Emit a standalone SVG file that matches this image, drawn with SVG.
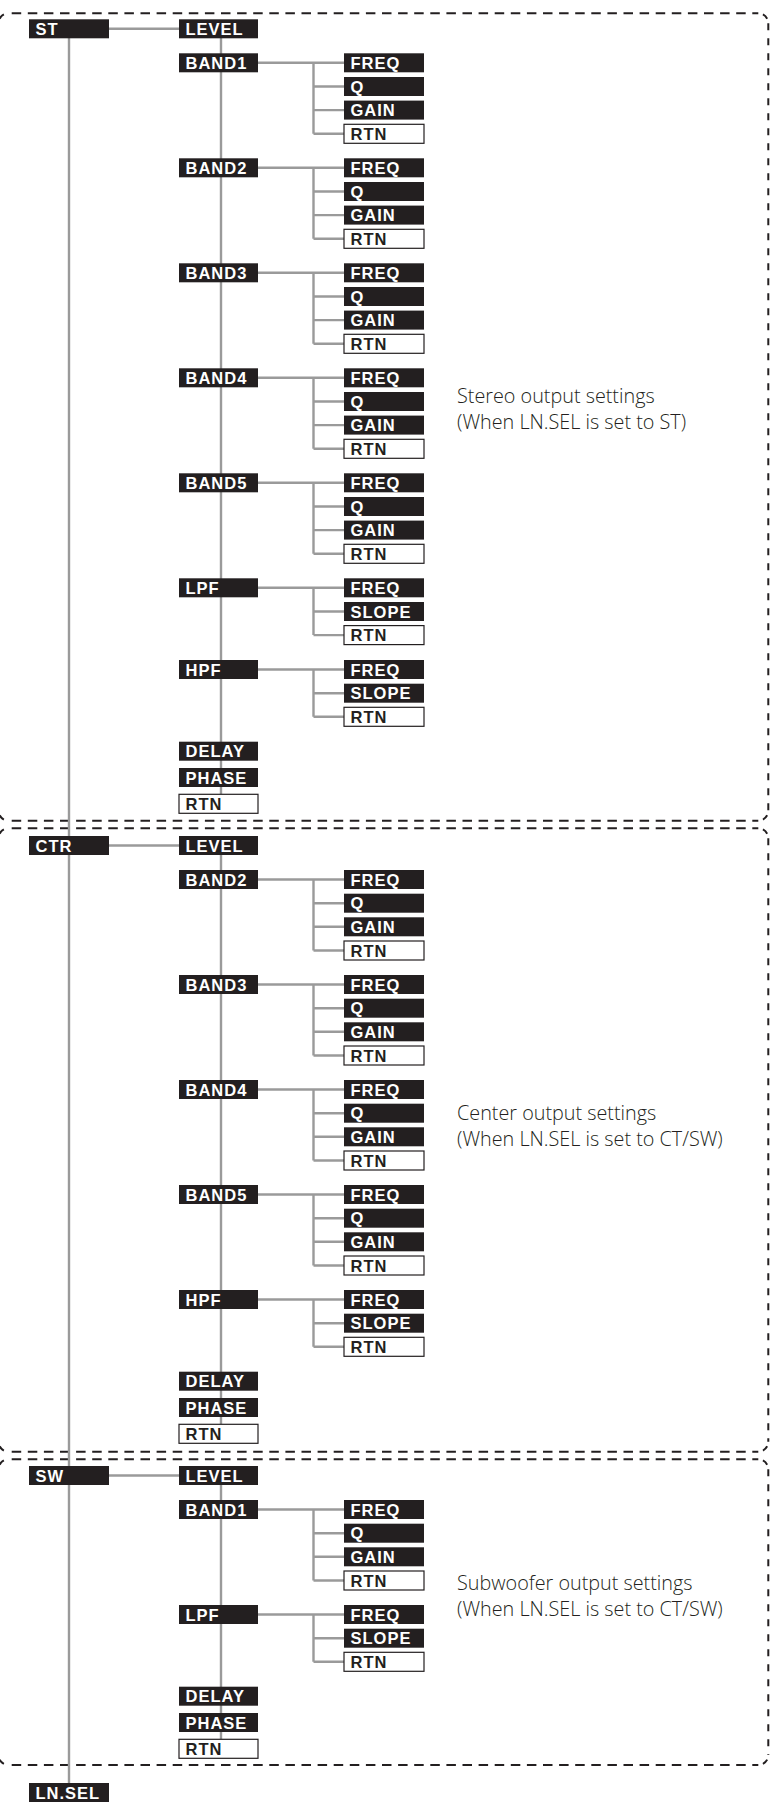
<svg xmlns="http://www.w3.org/2000/svg" width="770" height="1810" viewBox="0 0 770 1810">
<style>
.ln{stroke:#9a9a9a;stroke-width:2.4;fill:none}
.b rect{fill:#231f20}
.b text{fill:#fff}
.r rect{fill:#fff;stroke:#231f20;stroke-width:1.2}
.r text{fill:#231f20}
text{font-family:"Liberation Sans",Arial,sans-serif;font-weight:bold;font-size:16.5px;letter-spacing:1px}
.dh{stroke:#231f20;stroke-width:2;fill:none;stroke-dasharray:9.5 6.6}
.dv{stroke:#231f20;stroke-width:2;fill:none;stroke-dasharray:7 8}
.dc{stroke:#231f20;stroke-width:2;fill:none;stroke-dasharray:0 4.8 6 20}
text.note{font-family:"Open Sans","Liberation Sans",sans-serif;font-weight:300;font-size:19.8px;letter-spacing:0;fill:#231f20}
</style>
<g id="frames">
<path class="dh" d="M11.7 13.3H758.3M11.7 820.7H758.3"/>
<path class="dv" d="M768.3 23.3V810.7"/>
<path class="dc" d="M758.3 13.3A10 10 0 0 1 768.3 23.3M768.3 810.7A10 10 0 0 1 758.3 820.7M8.5 820.7A10 10 0 0 1 -1.5 810.7M-1.5 23.3A10 10 0 0 1 8.5 13.3"/>
<path class="dh" d="M11.7 828.3H758.3M11.7 1451.7H758.3"/>
<path class="dv" d="M768.3 838.3V1441.7"/>
<path class="dc" d="M758.3 828.3A10 10 0 0 1 768.3 838.3M768.3 1441.7A10 10 0 0 1 758.3 1451.7M8.5 1451.7A10 10 0 0 1 -1.5 1441.7M-1.5 838.3A10 10 0 0 1 8.5 828.3"/>
<path class="dh" d="M11.7 1459.3H758.3M11.7 1765H758.3"/>
<path class="dv" d="M768.3 1469.3V1755"/>
<path class="dc" d="M758.3 1459.3A10 10 0 0 1 768.3 1469.3M768.3 1755A10 10 0 0 1 758.3 1765M8.5 1765A10 10 0 0 1 -1.5 1755M-1.5 1469.3A10 10 0 0 1 8.5 1459.3"/>
</g>
<g id="connectors" class="ln">
<path d="M69 29V1790"/>
<path d="M109 28.8H179M221 38V794M109 845.5H179M221 855V1424M109 1475.5H179M221 1485V1739"/>
<path d="M258 62.8H344M313.5 62.8V133.8M313.5 86.5H344M313.5 110.1H344M313.5 133.8H344"/>
<path d="M258 167.8H344M313.5 167.8V238.8M313.5 191.5H344M313.5 215.1H344M313.5 238.8H344"/>
<path d="M258 272.8H344M313.5 272.8V343.8M313.5 296.5H344M313.5 320.1H344M313.5 343.8H344"/>
<path d="M258 377.8H344M313.5 377.8V448.8M313.5 401.5H344M313.5 425.1H344M313.5 448.8H344"/>
<path d="M258 482.8H344M313.5 482.8V553.8M313.5 506.5H344M313.5 530.1H344M313.5 553.8H344"/>
<path d="M258 587.8H344M313.5 587.8V635.1M313.5 611.5H344M313.5 635.1H344"/>
<path d="M258 669.5H344M313.5 669.5V716.8M313.5 693.2H344M313.5 716.8H344"/>
<path d="M258 879.5H344M313.5 879.5V950.5M313.5 903.2H344M313.5 926.8H344M313.5 950.5H344"/>
<path d="M258 984.5H344M313.5 984.5V1055.5M313.5 1008.2H344M313.5 1031.8H344M313.5 1055.5H344"/>
<path d="M258 1089.5H344M313.5 1089.5V1160.5M313.5 1113.2H344M313.5 1136.8H344M313.5 1160.5H344"/>
<path d="M258 1194.5H344M313.5 1194.5V1265.5M313.5 1218.2H344M313.5 1241.8H344M313.5 1265.5H344"/>
<path d="M258 1299.5H344M313.5 1299.5V1346.8M313.5 1323.2H344M313.5 1346.8H344"/>
<path d="M258 1509.5H344M313.5 1509.5V1580.5M313.5 1533.2H344M313.5 1556.8H344M313.5 1580.5H344"/>
<path d="M258 1614.5H344M313.5 1614.5V1661.8M313.5 1638.2H344M313.5 1661.8H344"/>
</g>

<!-- ST section -->
<g id="st" class="b"><rect x="29" y="19.3" width="80" height="19"/><text x="35.5" y="35">ST</text></g>
<g id="st-level" class="b"><rect x="179" y="19.3" width="79" height="19"/><text x="185.5" y="35">LEVEL</text></g>
<g id="st-band1" class="b"><rect x="179" y="53.3" width="79" height="19"/><text x="185.5" y="69">BAND1</text></g>
<g id="st-band1-freq" class="b"><rect x="344" y="53.3" width="80" height="19"/><text x="350.5" y="69">FREQ</text></g>
<g id="st-band1-q" class="b"><rect x="344" y="77" width="80" height="19"/><text x="350.5" y="92.7">Q</text></g>
<g id="st-band1-gain" class="b"><rect x="344" y="100.6" width="80" height="19"/><text x="350.5" y="116.3">GAIN</text></g>
<g id="st-band1-rtn" class="r"><rect x="344" y="124.3" width="80" height="19"/><text x="350.5" y="140">RTN</text></g>
<g id="st-band2" class="b"><rect x="179" y="158.3" width="79" height="19"/><text x="185.5" y="174">BAND2</text></g>
<g id="st-band2-freq" class="b"><rect x="344" y="158.3" width="80" height="19"/><text x="350.5" y="174">FREQ</text></g>
<g id="st-band2-q" class="b"><rect x="344" y="182" width="80" height="19"/><text x="350.5" y="197.7">Q</text></g>
<g id="st-band2-gain" class="b"><rect x="344" y="205.6" width="80" height="19"/><text x="350.5" y="221.3">GAIN</text></g>
<g id="st-band2-rtn" class="r"><rect x="344" y="229.3" width="80" height="19"/><text x="350.5" y="245">RTN</text></g>
<g id="st-band3" class="b"><rect x="179" y="263.3" width="79" height="19"/><text x="185.5" y="279">BAND3</text></g>
<g id="st-band3-freq" class="b"><rect x="344" y="263.3" width="80" height="19"/><text x="350.5" y="279">FREQ</text></g>
<g id="st-band3-q" class="b"><rect x="344" y="287" width="80" height="19"/><text x="350.5" y="302.7">Q</text></g>
<g id="st-band3-gain" class="b"><rect x="344" y="310.6" width="80" height="19"/><text x="350.5" y="326.3">GAIN</text></g>
<g id="st-band3-rtn" class="r"><rect x="344" y="334.3" width="80" height="19"/><text x="350.5" y="350">RTN</text></g>
<g id="st-band4" class="b"><rect x="179" y="368.3" width="79" height="19"/><text x="185.5" y="384">BAND4</text></g>
<g id="st-band4-freq" class="b"><rect x="344" y="368.3" width="80" height="19"/><text x="350.5" y="384">FREQ</text></g>
<g id="st-band4-q" class="b"><rect x="344" y="392" width="80" height="19"/><text x="350.5" y="407.7">Q</text></g>
<g id="st-band4-gain" class="b"><rect x="344" y="415.6" width="80" height="19"/><text x="350.5" y="431.3">GAIN</text></g>
<g id="st-band4-rtn" class="r"><rect x="344" y="439.3" width="80" height="19"/><text x="350.5" y="455">RTN</text></g>
<g id="st-band5" class="b"><rect x="179" y="473.3" width="79" height="19"/><text x="185.5" y="489">BAND5</text></g>
<g id="st-band5-freq" class="b"><rect x="344" y="473.3" width="80" height="19"/><text x="350.5" y="489">FREQ</text></g>
<g id="st-band5-q" class="b"><rect x="344" y="497" width="80" height="19"/><text x="350.5" y="512.7">Q</text></g>
<g id="st-band5-gain" class="b"><rect x="344" y="520.6" width="80" height="19"/><text x="350.5" y="536.3">GAIN</text></g>
<g id="st-band5-rtn" class="r"><rect x="344" y="544.3" width="80" height="19"/><text x="350.5" y="560">RTN</text></g>
<g id="st-lpf" class="b"><rect x="179" y="578.3" width="79" height="19"/><text x="185.5" y="594">LPF</text></g>
<g id="st-lpf-freq" class="b"><rect x="344" y="578.3" width="80" height="19"/><text x="350.5" y="594">FREQ</text></g>
<g id="st-lpf-slope" class="b"><rect x="344" y="602" width="80" height="19"/><text x="350.5" y="617.7">SLOPE</text></g>
<g id="st-lpf-rtn" class="r"><rect x="344" y="625.6" width="80" height="19"/><text x="350.5" y="641.3">RTN</text></g>
<g id="st-hpf" class="b"><rect x="179" y="660" width="79" height="19"/><text x="185.5" y="675.7">HPF</text></g>
<g id="st-hpf-freq" class="b"><rect x="344" y="660" width="80" height="19"/><text x="350.5" y="675.7">FREQ</text></g>
<g id="st-hpf-slope" class="b"><rect x="344" y="683.7" width="80" height="19"/><text x="350.5" y="699.4">SLOPE</text></g>
<g id="st-hpf-rtn" class="r"><rect x="344" y="707.3" width="80" height="19"/><text x="350.5" y="723">RTN</text></g>
<g id="st-delay" class="b"><rect x="179" y="741.7" width="79" height="19"/><text x="185.5" y="757.4">DELAY</text></g>
<g id="st-phase" class="b"><rect x="179" y="768" width="79" height="19"/><text x="185.5" y="783.7">PHASE</text></g>
<g id="st-rtn" class="r"><rect x="179" y="794.3" width="79" height="19"/><text x="185.5" y="810">RTN</text></g>
<g id="st-note"><text class="note" x="457" y="403">Stereo output settings</text><text class="note" x="457" y="429">(When LN.SEL is set to ST)</text></g>

<!-- CTR section -->
<g id="ctr" class="b"><rect x="29" y="836" width="80" height="19"/><text x="35.5" y="851.7">CTR</text></g>
<g id="ctr-level" class="b"><rect x="179" y="836" width="79" height="19"/><text x="185.5" y="851.7">LEVEL</text></g>
<g id="ctr-band2" class="b"><rect x="179" y="870" width="79" height="19"/><text x="185.5" y="885.7">BAND2</text></g>
<g id="ctr-band2-freq" class="b"><rect x="344" y="870" width="80" height="19"/><text x="350.5" y="885.7">FREQ</text></g>
<g id="ctr-band2-q" class="b"><rect x="344" y="893.7" width="80" height="19"/><text x="350.5" y="909.4">Q</text></g>
<g id="ctr-band2-gain" class="b"><rect x="344" y="917.3" width="80" height="19"/><text x="350.5" y="933">GAIN</text></g>
<g id="ctr-band2-rtn" class="r"><rect x="344" y="941" width="80" height="19"/><text x="350.5" y="956.7">RTN</text></g>
<g id="ctr-band3" class="b"><rect x="179" y="975" width="79" height="19"/><text x="185.5" y="990.7">BAND3</text></g>
<g id="ctr-band3-freq" class="b"><rect x="344" y="975" width="80" height="19"/><text x="350.5" y="990.7">FREQ</text></g>
<g id="ctr-band3-q" class="b"><rect x="344" y="998.7" width="80" height="19"/><text x="350.5" y="1014.4">Q</text></g>
<g id="ctr-band3-gain" class="b"><rect x="344" y="1022.3" width="80" height="19"/><text x="350.5" y="1038">GAIN</text></g>
<g id="ctr-band3-rtn" class="r"><rect x="344" y="1046" width="80" height="19"/><text x="350.5" y="1061.7">RTN</text></g>
<g id="ctr-band4" class="b"><rect x="179" y="1080" width="79" height="19"/><text x="185.5" y="1095.7">BAND4</text></g>
<g id="ctr-band4-freq" class="b"><rect x="344" y="1080" width="80" height="19"/><text x="350.5" y="1095.7">FREQ</text></g>
<g id="ctr-band4-q" class="b"><rect x="344" y="1103.7" width="80" height="19"/><text x="350.5" y="1119.4">Q</text></g>
<g id="ctr-band4-gain" class="b"><rect x="344" y="1127.3" width="80" height="19"/><text x="350.5" y="1143">GAIN</text></g>
<g id="ctr-band4-rtn" class="r"><rect x="344" y="1151" width="80" height="19"/><text x="350.5" y="1166.7">RTN</text></g>
<g id="ctr-band5" class="b"><rect x="179" y="1185" width="79" height="19"/><text x="185.5" y="1200.7">BAND5</text></g>
<g id="ctr-band5-freq" class="b"><rect x="344" y="1185" width="80" height="19"/><text x="350.5" y="1200.7">FREQ</text></g>
<g id="ctr-band5-q" class="b"><rect x="344" y="1208.7" width="80" height="19"/><text x="350.5" y="1224.4">Q</text></g>
<g id="ctr-band5-gain" class="b"><rect x="344" y="1232.3" width="80" height="19"/><text x="350.5" y="1248">GAIN</text></g>
<g id="ctr-band5-rtn" class="r"><rect x="344" y="1256" width="80" height="19"/><text x="350.5" y="1271.7">RTN</text></g>
<g id="ctr-hpf" class="b"><rect x="179" y="1290" width="79" height="19"/><text x="185.5" y="1305.7">HPF</text></g>
<g id="ctr-hpf-freq" class="b"><rect x="344" y="1290" width="80" height="19"/><text x="350.5" y="1305.7">FREQ</text></g>
<g id="ctr-hpf-slope" class="b"><rect x="344" y="1313.7" width="80" height="19"/><text x="350.5" y="1329.4">SLOPE</text></g>
<g id="ctr-hpf-rtn" class="r"><rect x="344" y="1337.3" width="80" height="19"/><text x="350.5" y="1353">RTN</text></g>
<g id="ctr-delay" class="b"><rect x="179" y="1371.7" width="79" height="19"/><text x="185.5" y="1387.4">DELAY</text></g>
<g id="ctr-phase" class="b"><rect x="179" y="1398" width="79" height="19"/><text x="185.5" y="1413.7">PHASE</text></g>
<g id="ctr-rtn" class="r"><rect x="179" y="1424.3" width="79" height="19"/><text x="185.5" y="1440">RTN</text></g>
<g id="ctr-note"><text class="note" x="457" y="1120">Center output settings</text><text class="note" x="457" y="1146">(When LN.SEL is set to CT/SW)</text></g>

<!-- SW section -->
<g id="sw" class="b"><rect x="29" y="1466" width="80" height="19"/><text x="35.5" y="1481.7">SW</text></g>
<g id="sw-level" class="b"><rect x="179" y="1466" width="79" height="19"/><text x="185.5" y="1481.7">LEVEL</text></g>
<g id="sw-band1" class="b"><rect x="179" y="1500" width="79" height="19"/><text x="185.5" y="1515.7">BAND1</text></g>
<g id="sw-band1-freq" class="b"><rect x="344" y="1500" width="80" height="19"/><text x="350.5" y="1515.7">FREQ</text></g>
<g id="sw-band1-q" class="b"><rect x="344" y="1523.7" width="80" height="19"/><text x="350.5" y="1539.4">Q</text></g>
<g id="sw-band1-gain" class="b"><rect x="344" y="1547.3" width="80" height="19"/><text x="350.5" y="1563">GAIN</text></g>
<g id="sw-band1-rtn" class="r"><rect x="344" y="1571" width="80" height="19"/><text x="350.5" y="1586.7">RTN</text></g>
<g id="sw-lpf" class="b"><rect x="179" y="1605" width="79" height="19"/><text x="185.5" y="1620.7">LPF</text></g>
<g id="sw-lpf-freq" class="b"><rect x="344" y="1605" width="80" height="19"/><text x="350.5" y="1620.7">FREQ</text></g>
<g id="sw-lpf-slope" class="b"><rect x="344" y="1628.7" width="80" height="19"/><text x="350.5" y="1644.4">SLOPE</text></g>
<g id="sw-lpf-rtn" class="r"><rect x="344" y="1652.3" width="80" height="19"/><text x="350.5" y="1668">RTN</text></g>
<g id="sw-delay" class="b"><rect x="179" y="1686.7" width="79" height="19"/><text x="185.5" y="1702.4">DELAY</text></g>
<g id="sw-phase" class="b"><rect x="179" y="1713" width="79" height="19"/><text x="185.5" y="1728.7">PHASE</text></g>
<g id="sw-rtn" class="r"><rect x="179" y="1739.3" width="79" height="19"/><text x="185.5" y="1755">RTN</text></g>
<g id="sw-note"><text class="note" x="457" y="1590">Subwoofer output settings</text><text class="note" x="457" y="1616">(When LN.SEL is set to CT/SW)</text></g>

<g id="lnsel" class="b"><rect x="29" y="1783" width="80" height="19"/><text x="35.5" y="1798.7">LN.SEL</text></g>
</svg>
